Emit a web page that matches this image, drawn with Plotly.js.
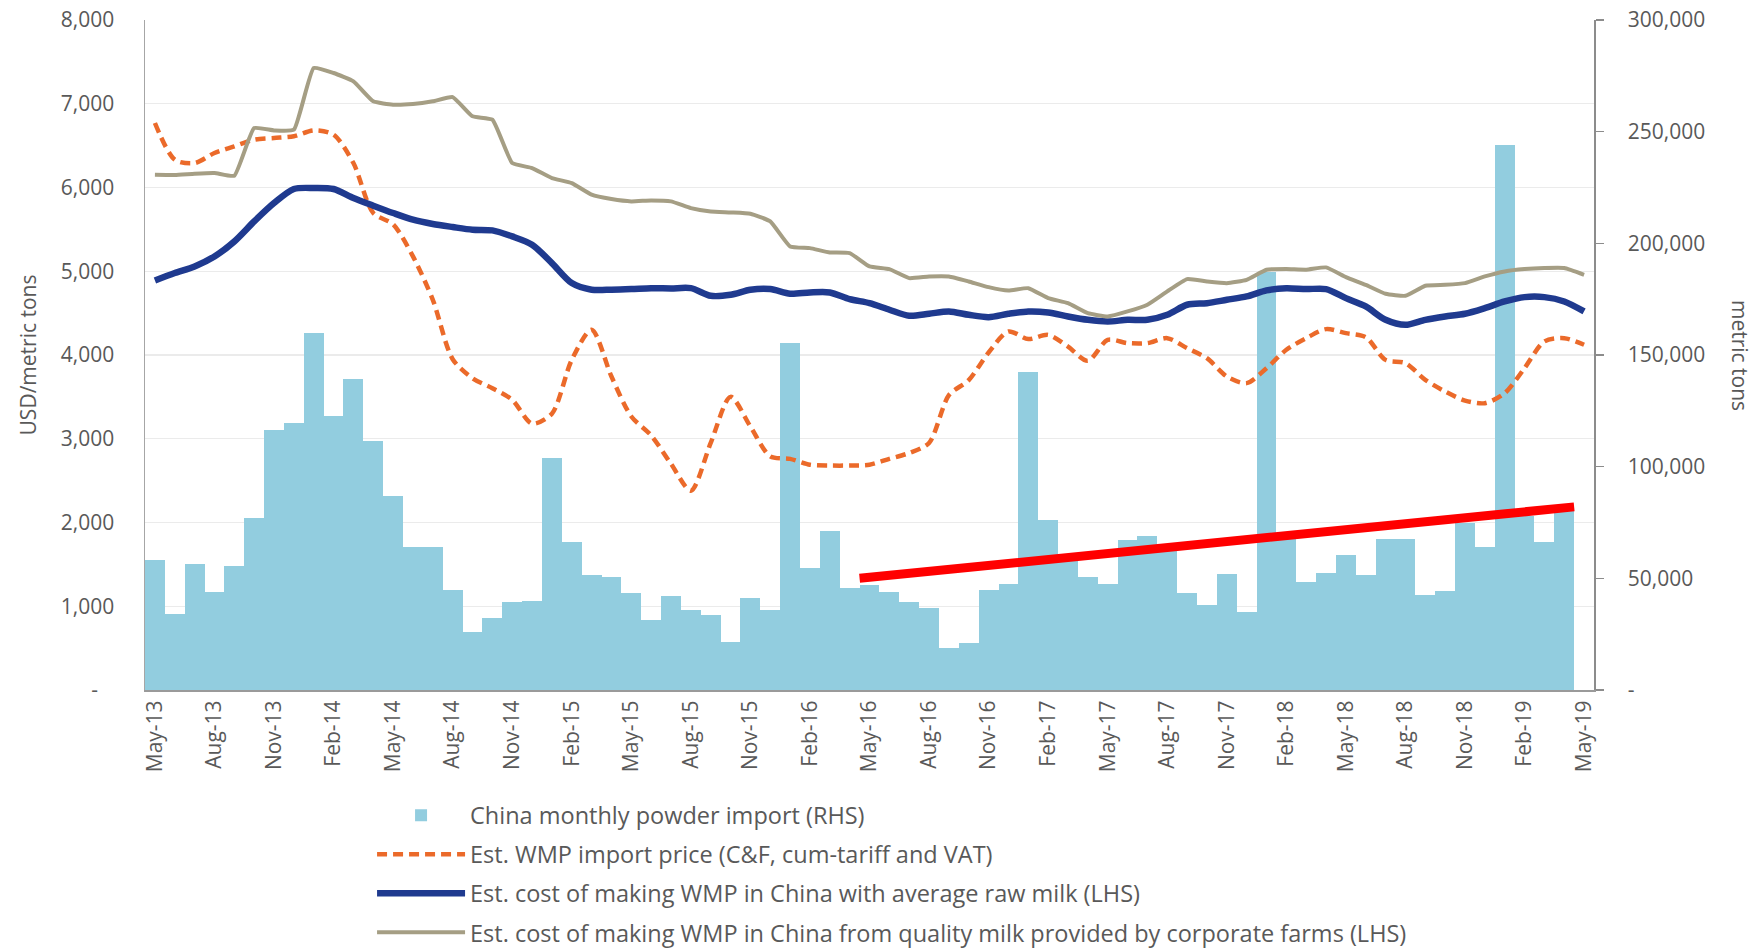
<!DOCTYPE html>
<html>
<head>
<meta charset="utf-8">
<script src="https://cdn.plot.ly/plotly-3.0.1.min.js"></script>
<style>html,body{margin:0;padding:0;background:#fff;}#chart{width:1756px;height:950px;}</style>
</head>
<body>
<div id="chart"></div>
<script>
// Monthly categories May-13 .. May-19
const months = [
  "May-13","Jun-13","Jul-13","Aug-13","Sep-13","Oct-13","Nov-13","Dec-13",
  "Jan-14","Feb-14","Mar-14","Apr-14","May-14","Jun-14","Jul-14","Aug-14","Sep-14","Oct-14","Nov-14","Dec-14",
  "Jan-15","Feb-15","Mar-15","Apr-15","May-15","Jun-15","Jul-15","Aug-15","Sep-15","Oct-15","Nov-15","Dec-15",
  "Jan-16","Feb-16","Mar-16","Apr-16","May-16","Jun-16","Jul-16","Aug-16","Sep-16","Oct-16","Nov-16","Dec-16",
  "Jan-17","Feb-17","Mar-17","Apr-17","May-17","Jun-17","Jul-17","Aug-17","Sep-17","Oct-17","Nov-17","Dec-17",
  "Jan-18","Feb-18","Mar-18","Apr-18","May-18","Jun-18","Jul-18","Aug-18","Sep-18","Oct-18","Nov-18","Dec-18",
  "Jan-19","Feb-19","Mar-19","Apr-19","May-19"
];
// Tick labels shown on the x axis (every third month)
const tickLabels = ["May-13","Aug-13","Nov-13","Feb-14","May-14","Aug-14","Nov-14","Feb-15","May-15","Aug-15","Nov-15","Feb-16","May-16","Aug-16","Nov-16","Feb-17","May-17","Aug-17","Nov-17","Feb-18","May-18","Aug-18","Nov-18","Feb-19","May-19"];

// China monthly powder import (metric tons, RHS)
const powderImport = [
  58200,34000,56400,43900,55700,76900,116400,119400,
  159700,122800,139300,111600,86900,63900,63900,44800,26100,32100,39300,39900,
  103800,66400,51500,50700,43300,31300,42200,35800,33600,21300,41000,35800,
  155200,54500,71300,45500,47000,43700,39500,36600,18700,20900,44800,47500,
  142300,76100,58000,50700,47500,67200,69100,64000,43600,38100,51800,35100,
  187000,70000,48500,52200,60400,51500,67500,67500,42500,44500,75000,64200,
  244000,78000,66400,81000,null
];

// Est. WMP import price (C&F, cum-tariff and VAT), USD/t
const importPrice = [
  6770,6332,6292,6412,6491,6571,6591,6611,
  6682,6631,6292,5695,5560,5177,4659,3950,3723,3604,3465,3180,
  3300,3942,4301,3743,3266,3040,2700,2380,2950,3500,3146,2790,
  2760,2690,2680,2680,2690,2760,2830,2950,3520,3700,4030,4280,
  4190,4240,4100,3930,4180,4142,4142,4201,4082,3962,3743,3664,
  3843,4062,4201,4309,4261,4213,3942,3903,3703,3564,3456,3425,
  3544,3843,4162,4201,4122
];

// Est. cost of making WMP in China with average raw milk (LHS)
const costAverage = [
  4890,4979,5058,5177,5356,5595,5814,5982,
  5994,5982,5874,5783,5695,5615,5564,5528,5496,5488,5416,5317,
  5098,4859,4780,4780,4787,4798,4795,4798,4707,4719,4779,4787,
  4731,4747,4747,4667,4619,4540,4468,4492,4520,4480,4452,4492,
  4520,4508,4460,4420,4400,4420,4420,4480,4600,4619,4659,4699,
  4771,4798,4787,4787,4679,4580,4420,4360,4420,4460,4492,4560,
  4639,4691,4691,4639,4520
];

// Est. cost of making WMP in China from quality milk provided by corporate farms (LHS)
const costCorporate = [
  6153,6150,6165,6173,6141,6710,6682,6690,
  7427,7367,7268,7029,6989,6997,7029,7080,6850,6810,6292,6232,
  6113,6053,5914,5862,5834,5846,5834,5754,5714,5702,5686,5595,
  5296,5276,5225,5217,5058,5026,4918,4938,4938,4878,4810,4770,
  4798,4679,4619,4499,4460,4520,4600,4759,4906,4878,4858,4898,
  5018,5026,5018,5046,4930,4838,4731,4707,4827,4838,4858,4938,
  4998,5026,5038,5038,4958
];

// Red trend annotation (category position, metric tons on RHS)
const trendX = [35.5, 71.5];
const trendY = [50000, 82000];

const lhsTicks = [0,1000,2000,3000,4000,5000,6000,7000,8000];
const lhsTickText = ["-\u00a0\u00a0\u00a0","1,000","2,000","3,000","4,000","5,000","6,000","7,000","8,000"];
const rhsTicks = [0,50000,100000,150000,200000,250000,300000];
const rhsTickText = ["-","50,000","100,000","150,000","200,000","250,000","300,000"];

const FONT = "Open Sans, sans-serif";
const GREY = "#595959";

const traces = [
  {
    type: "bar", name: "China monthly powder import (RHS)",
    x: months, y: powderImport, yaxis: "y",
    marker: {color: "#92CDDF", line: {width: 0}},
    legendgroup: "g1"
  },
  {
    type: "scatter", mode: "lines", showlegend: false, hoverinfo: "skip",
    x: trendX, y: trendY, xaxis: "x2", yaxis: "y3",
    line: {color: "#FF0000", width: 9}
  },
  {
    type: "scatter", mode: "lines", name: "Est. WMP import price (C&F, cum-tariff and VAT)",
    x: months, y: importPrice, yaxis: "y2",
    line: {color: "#EB6A2A", width: 4.5, dash: "10px,6px", shape: "spline", smoothing: 0.8},
    legendgroup: "g2"
  },
  {
    type: "scatter", mode: "lines", name: "Est. cost of making WMP in China with average raw milk (LHS)",
    x: months, y: costAverage, yaxis: "y2",
    line: {color: "#1F3A8F", width: 6.5, shape: "spline", smoothing: 0.8},
    legendgroup: "g3"
  },
  {
    type: "scatter", mode: "lines", name: "Est. cost of making WMP in China from quality milk provided by corporate farms (LHS)",
    x: months, y: costCorporate, yaxis: "y2",
    line: {color: "#A59E84", width: 4, shape: "spline", smoothing: 0.4},
    legendgroup: "g4"
  }
];

const layout = {
  width: 1756, height: 950,
  margin: {l: 145, r: 162, t: 20, b: 260},
  paper_bgcolor: "#ffffff", plot_bgcolor: "#ffffff",
  font: {family: FONT, size: 21, color: GREY},
  barmode: "overlay", bargap: 0,
  showlegend: true,
  legend: {
    xref: "paper", yref: "container",
    x: 0.1567, xanchor: "left", y: 0.1648, yanchor: "top",
    orientation: "v", traceorder: "grouped", tracegroupgap: 5.5,
    font: {family: FONT, size: 23.5, color: GREY},
    bgcolor: "rgba(0,0,0,0)", itemwidth: 88
  },
  xaxis: {
    type: "category", range: [-0.5, 72.5],
    tickmode: "array", tickvals: tickLabels, ticktext: tickLabels,
    tickangle: -90, ticks: "", ticklabelstandoff: 0,
    showline: true, linecolor: "#9A9A9A", linewidth: 2,
    showgrid: false, zeroline: false,
    tickfont: {family: FONT, size: 21, color: GREY}
  },
  xaxis2: {
    overlaying: "x", range: [-0.5, 72.5], visible: false, showgrid: false, zeroline: false
  },
  yaxis: {
    side: "right", range: [0, 300000],
    tickmode: "array", tickvals: rhsTicks, ticktext: rhsTickText,
    ticks: "outside", ticklen: 8, tickcolor: "#8C8C8C", tickwidth: 1.5,
    ticklabelstandoff: 20,
    showline: true, linecolor: "#8C8C8C", linewidth: 1.5,
    showgrid: false, zeroline: false,
    tickfont: {family: FONT, size: 21, color: GREY}
  },
  yaxis3: {
    overlaying: "y", range: [0, 300000], visible: false, showgrid: false, zeroline: false
  },
  yaxis2: {
    side: "left", overlaying: "y", range: [0, 8000],
    tickmode: "array", tickvals: lhsTicks, ticktext: lhsTickText,
    ticks: "", ticklabelstandoff: 25,
    showline: true, linecolor: "#A6A6A6", linewidth: 1.5,
    showgrid: true, gridcolor: "#EBEBEB", gridwidth: 1.2, zeroline: false,
    tickfont: {family: FONT, size: 21, color: GREY},
    title: {text: "USD/metric tons", font: {family: FONT, size: 21, color: GREY}, standoff: 18}
  },
  annotations: [
    {
      text: "metric tons", xref: "paper", yref: "paper", x: 1.1008, y: 0.5,
      xanchor: "center", yanchor: "middle", textangle: 90, showarrow: false,
      font: {family: FONT, size: 21, color: GREY}
    }
  ]
};

Plotly.newPlot("chart", traces, layout, {staticPlot: true, displayModeBar: false});
</script>
</body>
</html>
